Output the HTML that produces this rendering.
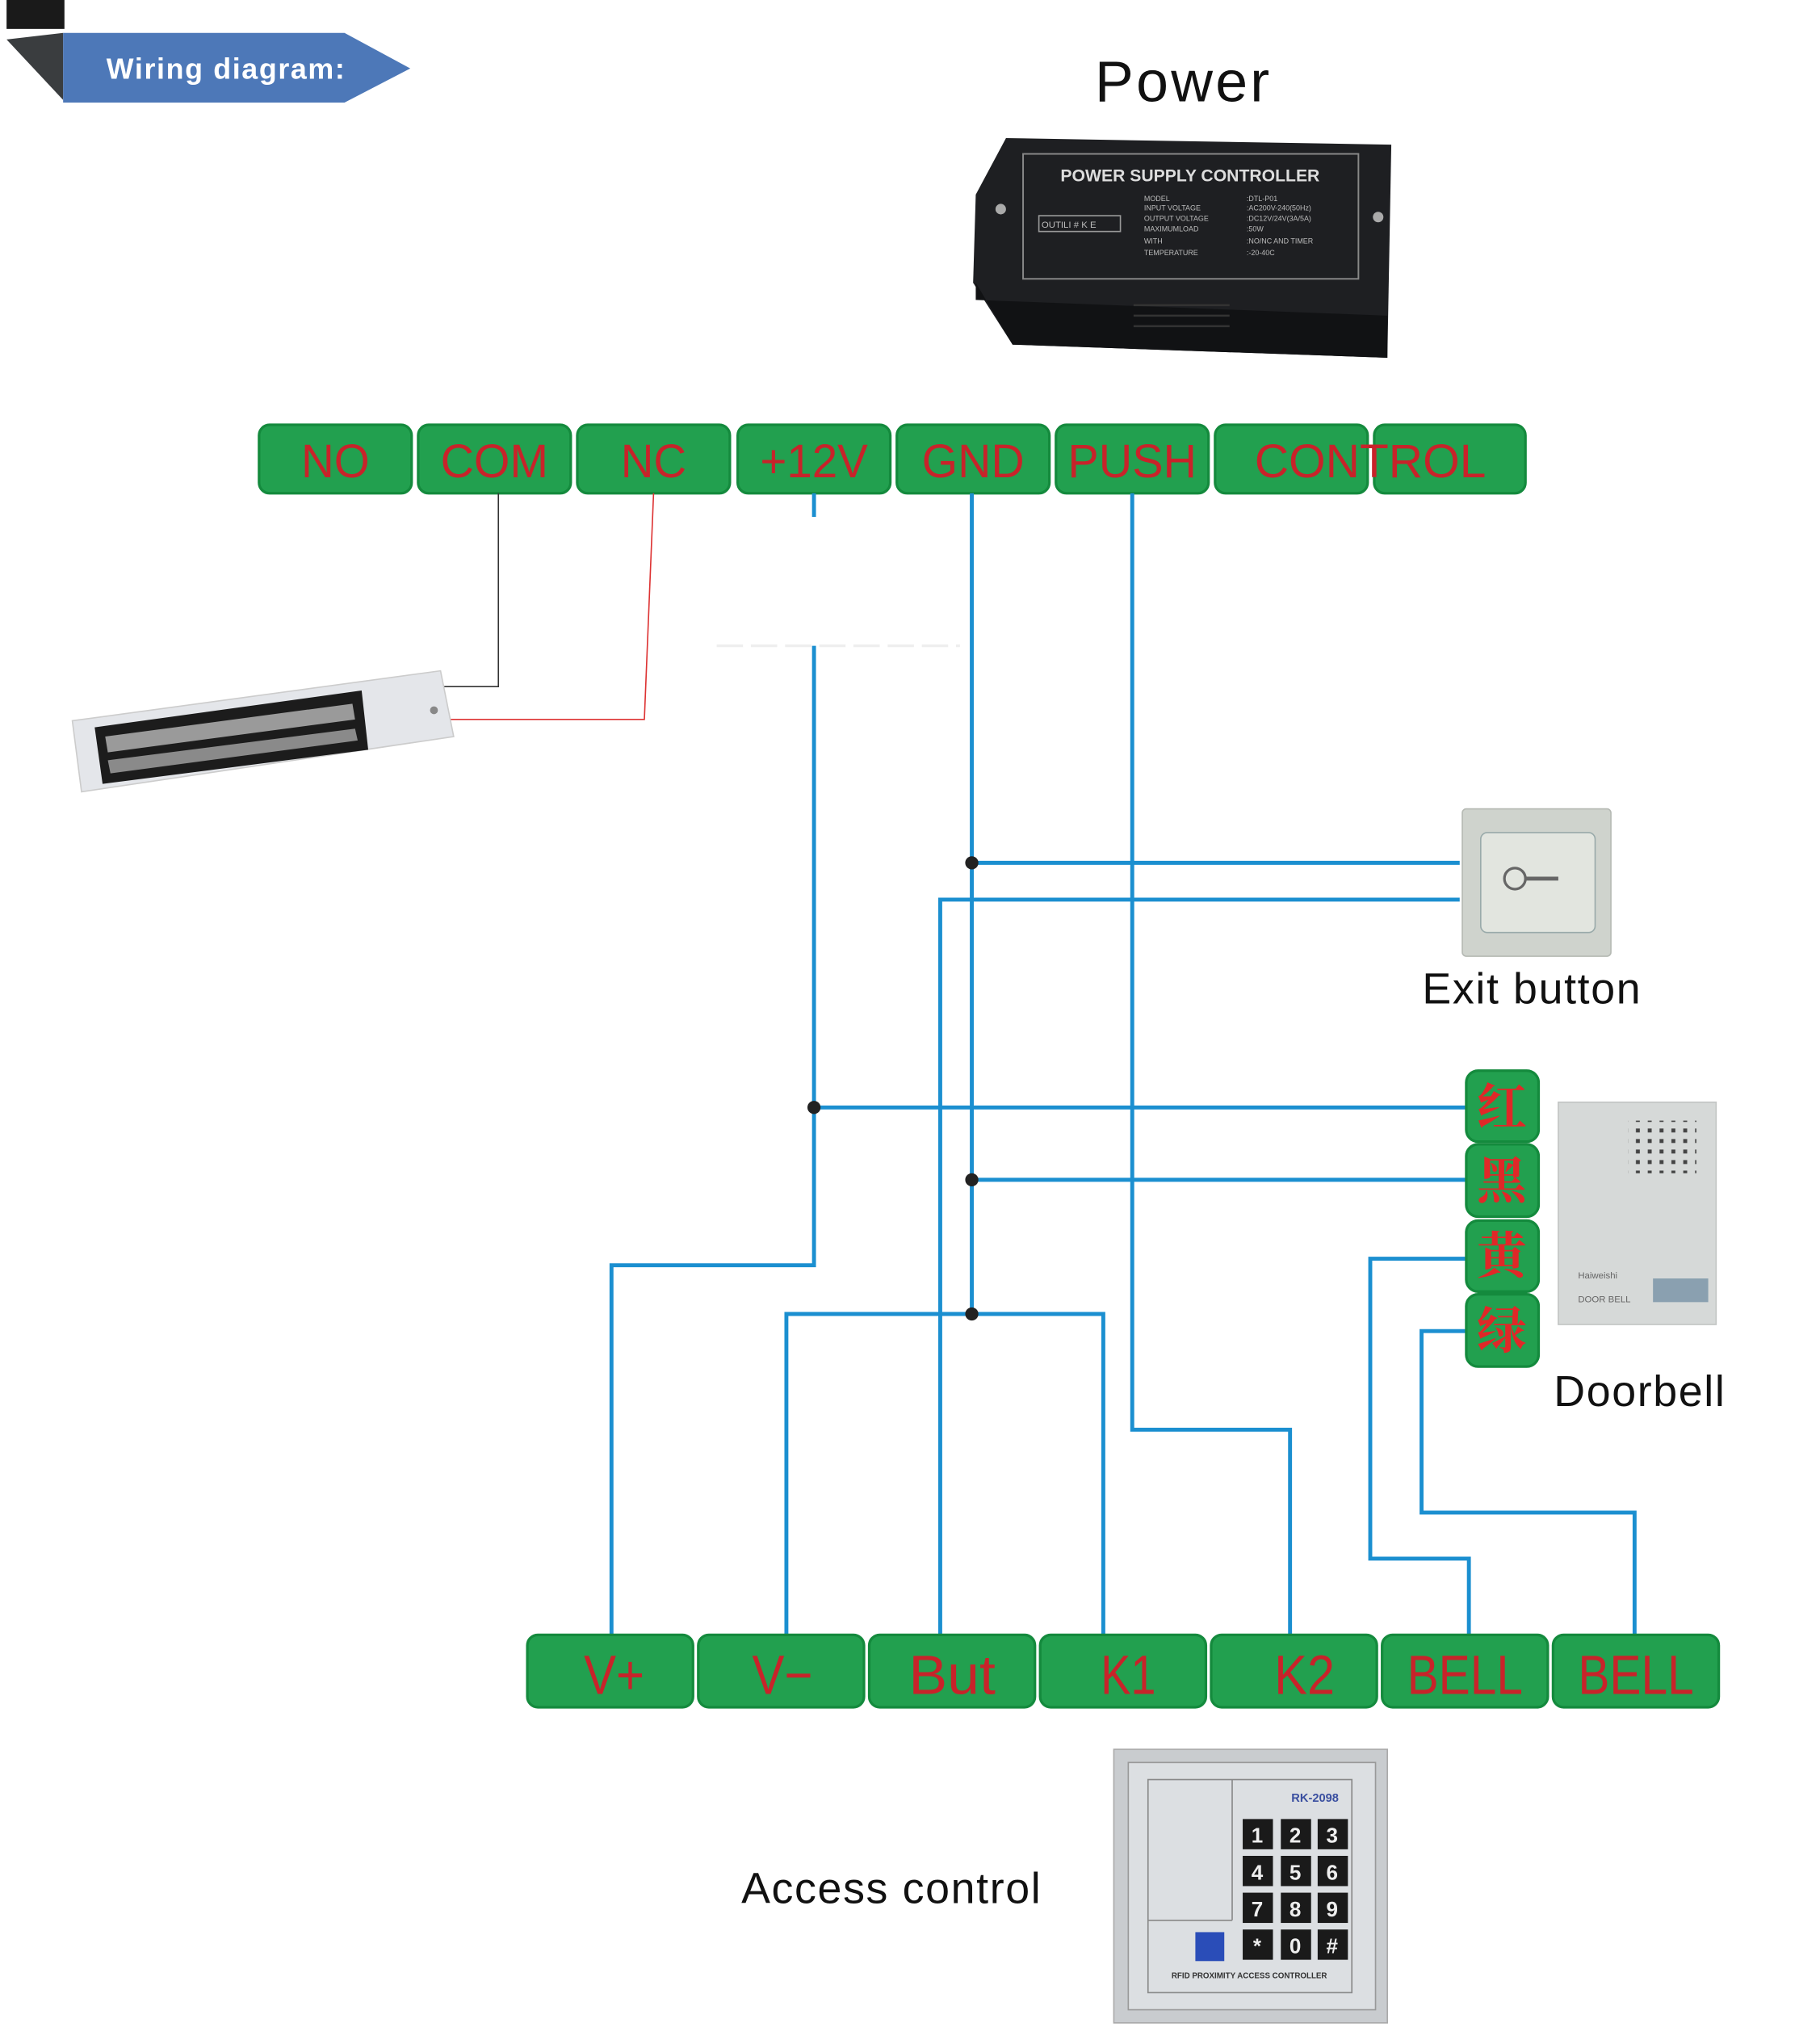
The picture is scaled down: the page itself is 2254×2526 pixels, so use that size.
<!DOCTYPE html>
<html><head><meta charset="utf-8"><style>
html,body{margin:0;padding:0;background:#fff;}
svg{display:block;}
.t{font-family:"Liberation Sans","Noto Sans CJK SC",sans-serif;}
.term{fill:#c8232a;font-family:"Liberation Sans Narrow","Liberation Sans",sans-serif;font-size:36px;text-anchor:middle;}
.w{stroke:#1b8fd0;stroke-width:3;fill:none;}
</style></head><body>
<svg width="2254" height="2526" viewBox="0 0 1384 1551" preserveAspectRatio="none" xmlns="http://www.w3.org/2000/svg">
<defs><pattern id="dots" width="9" height="8" patternUnits="userSpaceOnUse"><rect x="2" y="2" width="3" height="3" fill="#444"/></pattern></defs>
<rect x="5" y="0" width="44" height="22" fill="#1a1a1a"/>
<polygon points="5,30 48,76 48,25" fill="#3a3d3f"/>
<polygon points="48,25 262,25 312,52 262,78 48,78" fill="#4d78b8"/>
<text x="172" y="60" class="t" fill="#fff" font-size="22" font-weight="bold" text-anchor="middle" letter-spacing="1">Wiring diagram:</text>

<text x="900" y="77" class="t" font-size="44" text-anchor="middle" fill="#111" letter-spacing="2">Power</text>
<polygon points="765,105 1058,110 1055,272 770,262 740,215 742,148" fill="#1e1f22"/>
<polygon points="742,215 770,262 1055,272 1055,240 742,228" fill="#111214"/>
<rect x="778" y="117" width="255" height="95" fill="none" stroke="#888" stroke-width="1.2"/>
<text x="905" y="138" class="t" fill="#ddd" font-size="13" font-weight="bold" text-anchor="middle" font-family="Liberation Serif">POWER SUPPLY CONTROLLER</text>
<g fill="#bbb" font-size="5.5" class="t">
<text x="870" y="153">MODEL</text><text x="948" y="153">:DTL-P01</text>
<text x="870" y="160">INPUT VOLTAGE</text><text x="948" y="160">:AC200V-240(50Hz)</text>
<text x="870" y="168">OUTPUT VOLTAGE</text><text x="948" y="168">:DC12V/24V(3A/5A)</text>
<text x="870" y="176">MAXIMUMLOAD</text><text x="948" y="176">:50W</text>
<text x="870" y="185">WITH</text><text x="948" y="185">:NO/NC AND TIMER</text>
<text x="870" y="194">TEMPERATURE</text><text x="948" y="194">:-20-40C</text>
</g>
<rect x="790" y="164" width="62" height="12" fill="none" stroke="#999"/>
<text x="792" y="173" font-size="7" fill="#bbb" class="t">OUTILI # K E</text>
<circle cx="761" cy="159" r="4" fill="#aaa"/><circle cx="1048" cy="165" r="4" fill="#aaa"/>
<g stroke="#333" stroke-width="1.5"><line x1="862" y1="232" x2="935" y2="232"/><line x1="862" y1="240" x2="935" y2="240"/><line x1="862" y1="248" x2="935" y2="248"/></g>

<g fill="#22a04f" stroke="#148a3d" stroke-width="2">
<rect x="197" y="323" width="116" height="52" rx="8"/>
<rect x="318" y="323" width="116" height="52" rx="8"/>
<rect x="439" y="323" width="116" height="52" rx="8"/>
<rect x="561" y="323" width="116" height="52" rx="8"/>
<rect x="682" y="323" width="116" height="52" rx="8"/>
<rect x="803" y="323" width="116" height="52" rx="8"/>
<rect x="924" y="323" width="116" height="52" rx="8"/>
<rect x="1045" y="323" width="115" height="52" rx="8"/>
</g>
<g class="term">
<text x="255" y="363" textLength="52" lengthAdjust="spacingAndGlyphs">NO</text>
<text x="376" y="363" textLength="82" lengthAdjust="spacingAndGlyphs">COM</text>
<text x="497" y="363" textLength="50" lengthAdjust="spacingAndGlyphs">NC</text>
<text x="619" y="363" textLength="82" lengthAdjust="spacingAndGlyphs">+12V</text>
<text x="740" y="363" textLength="78" lengthAdjust="spacingAndGlyphs">GND</text>
<text x="861" y="363" textLength="98" lengthAdjust="spacingAndGlyphs">PUSH</text>
<text x="1042" y="363" textLength="176" lengthAdjust="spacingAndGlyphs">CONTROL</text>
</g>

<polyline points="379,375 379,522 335,522" fill="none" stroke="#333" stroke-width="1"/>
<polyline points="497,375 490,547 340,547" fill="none" stroke="#d33" stroke-width="1"/>
<polygon points="55,548 335,510 345,560 62,602" fill="#e4e6ea" stroke="#ccc"/>
<polygon points="72,553 275,525 280,570 78,596" fill="#1c1c1c"/>
<polygon points="80,560 268,535 270,547 82,572" fill="#9a9a9a"/>
<polygon points="82,578 270,554 272,563 84,588" fill="#8a8a8a"/>
<circle cx="330" cy="540" r="3" fill="#888"/>

<polyline class="w" points="619,375 619,962 465,962 465,1245"/>
<line class="w" x1="739" y1="375" x2="739" y2="1000"/>
<polyline class="w" points="861,375 861,1087 981,1087 981,1245"/>
<line class="w" x1="739" y1="656" x2="1110" y2="656"/>
<polyline class="w" points="1110,684 715,684 715,1245"/>
<line class="w" x1="619" y1="842" x2="1117" y2="842"/>
<line class="w" x1="739" y1="897" x2="1117" y2="897"/>
<polyline class="w" points="598,1245 598,999 839,999 839,1245"/>
<polyline class="w" points="1117,957 1042,957 1042,1185 1117,1185 1117,1245"/>
<polyline class="w" points="1117,1012 1081,1012 1081,1150 1243,1150 1243,1245"/>
<g fill="#222"><circle cx="739" cy="656" r="5"/><circle cx="619" cy="842" r="5"/><circle cx="739" cy="897" r="5"/><circle cx="739" cy="999" r="5"/></g>
<rect x="545" y="393" width="185" height="98" fill="#fff"/>
<line x1="545" y1="491" x2="730" y2="491" stroke="#eee" stroke-width="2" stroke-dasharray="20,6"/>

<rect x="1112" y="615" width="113" height="112" rx="3" fill="#cfd3cd" stroke="#b5b9b3"/>
<rect x="1126" y="633" width="87" height="76" rx="5" fill="#e2e5df" stroke="#9aa"/>
<circle cx="1152" cy="668" r="8" fill="none" stroke="#666" stroke-width="2"/>
<line x1="1160" y1="668" x2="1185" y2="668" stroke="#666" stroke-width="3"/>
<text x="1165" y="763" class="t" font-size="33" text-anchor="middle" fill="#111" letter-spacing="1">Exit button</text>

<g fill="#22a04f" stroke="#148a3d" stroke-width="2">
<rect x="1115" y="814" width="55" height="54" rx="9"/>
<rect x="1115" y="870" width="55" height="55" rx="9"/>
<rect x="1115" y="928" width="55" height="54" rx="9"/>
<rect x="1115" y="984" width="55" height="55" rx="9"/>
</g>
<g fill="#e02828" font-size="38" font-weight="bold" text-anchor="middle" font-family="'Noto Serif CJK SC','WenQuanYi Zen Hei',serif">
<text x="1142" y="855">红</text><text x="1142" y="911">黑</text><text x="1142" y="968">黄</text><text x="1142" y="1025">绿</text>
</g>
<rect x="1185" y="838" width="120" height="169" fill="#d6d9d8" stroke="#c2c5c4"/>
<rect x="1238" y="852" width="52" height="40" fill="url(#dots)"/>
<rect x="1257" y="972" width="42" height="18" fill="#8aa0b0"/>
<text x="1200" y="972" font-size="7" fill="#666" class="t">Haiweishi</text>
<text x="1200" y="990" font-size="7" fill="#666" class="t">DOOR BELL</text>
<text x="1247" y="1069" class="t" font-size="33" text-anchor="middle" fill="#111" letter-spacing="1">Doorbell</text>

<g fill="#22a04f" stroke="#148a3d" stroke-width="2">
<rect x="401" y="1243" width="126" height="55" rx="8"/>
<rect x="531" y="1243" width="126" height="55" rx="8"/>
<rect x="661" y="1243" width="126" height="55" rx="8"/>
<rect x="791" y="1243" width="126" height="55" rx="8"/>
<rect x="921" y="1243" width="126" height="55" rx="8"/>
<rect x="1051" y="1243" width="126" height="55" rx="8"/>
<rect x="1181" y="1243" width="126" height="55" rx="8"/>
</g>
<g class="term">
<text x="467" y="1288" font-size="42" textLength="46" lengthAdjust="spacingAndGlyphs">V+</text>
<text x="595" y="1288" font-size="42" textLength="46" lengthAdjust="spacingAndGlyphs">V−</text>
<text x="724" y="1288" font-size="42" textLength="66" lengthAdjust="spacingAndGlyphs">But</text>
<text x="858" y="1288" font-size="42" textLength="42" lengthAdjust="spacingAndGlyphs">K1</text>
<text x="992" y="1288" font-size="42" textLength="46" lengthAdjust="spacingAndGlyphs">K2</text>
<text x="1114" y="1288" font-size="42" textLength="88" lengthAdjust="spacingAndGlyphs">BELL</text>
<text x="1244" y="1288" font-size="42" textLength="88" lengthAdjust="spacingAndGlyphs">BELL</text>
</g>

<text x="678" y="1447" class="t" font-size="33" text-anchor="middle" fill="#111" letter-spacing="1">Access control</text>
<rect x="847" y="1330" width="208" height="208" fill="#c9cccf" stroke="#aaa"/>
<rect x="858" y="1340" width="188" height="188" fill="#dcdfe2" stroke="#999"/>
<rect x="873" y="1353" width="155" height="162" fill="none" stroke="#888"/>
<line x1="937" y1="1353" x2="937" y2="1460" stroke="#888"/>
<line x1="873" y1="1460" x2="937" y2="1460" stroke="#888"/>
<text x="1000" y="1370" font-size="9" fill="#3a4fa0" text-anchor="middle" class="t" font-weight="bold">RK-2098</text>
<rect x="909" y="1469" width="22" height="22" fill="#2a4db8"/>
<g fill="#1a1a1a">
<rect x="945" y="1383" width="23" height="23"/><rect x="974" y="1383" width="23" height="23"/><rect x="1002" y="1383" width="23" height="23"/>
<rect x="945" y="1411" width="23" height="23"/><rect x="974" y="1411" width="23" height="23"/><rect x="1002" y="1411" width="23" height="23"/>
<rect x="945" y="1439" width="23" height="23"/><rect x="974" y="1439" width="23" height="23"/><rect x="1002" y="1439" width="23" height="23"/>
<rect x="945" y="1467" width="23" height="23"/><rect x="974" y="1467" width="23" height="23"/><rect x="1002" y="1467" width="23" height="23"/>
</g>
<g fill="#eee" font-size="16" font-weight="bold" text-anchor="middle" class="t">
<text x="956" y="1401">1</text><text x="985" y="1401">2</text><text x="1013" y="1401">3</text>
<text x="956" y="1429">4</text><text x="985" y="1429">5</text><text x="1013" y="1429">6</text>
<text x="956" y="1457">7</text><text x="985" y="1457">8</text><text x="1013" y="1457">9</text>
<text x="956" y="1485">*</text><text x="985" y="1485">0</text><text x="1013" y="1485">#</text>
</g>
<text x="950" y="1504" font-size="6" fill="#333" text-anchor="middle" class="t" font-weight="bold">RFID PROXIMITY ACCESS CONTROLLER</text>
</svg>
</body></html>
